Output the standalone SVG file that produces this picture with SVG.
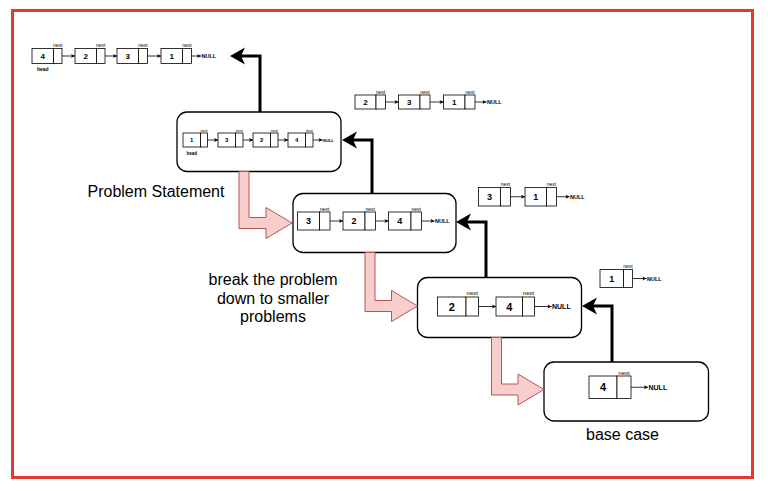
<svg xmlns="http://www.w3.org/2000/svg" width="768" height="491" viewBox="0 0 768 491">
<style>
text{font-family:"Liberation Sans",Arial,sans-serif;fill:#000}
.cell{fill:#fff;stroke:#000;stroke-width:0.8}
.box{fill:#fff;stroke:#000;stroke-width:1.3}
.num{font-weight:bold;text-anchor:middle;dominant-baseline:central}
.nx{text-anchor:middle}
.nul{font-weight:bold;dominant-baseline:central}
.hd{font-weight:bold;text-anchor:middle}
.lbl{font-size:16px;text-anchor:middle}
.link{stroke:#000;stroke-width:0.8;fill:none;marker-end:url(#sm)}
.rec{stroke:#000;stroke-width:3;fill:none;marker-end:url(#big)}
.blk{fill:#f8cecc;stroke:#b85450;stroke-width:1}
.s6 .num{font-size:6px}.s6 .nx{font-size:3.8px}.s6 .nul{font-size:4px}.s6 .hd{font-size:4.5px}
.s8 .num{font-size:8px}.s8 .nx{font-size:5px}.s8 .nul{font-size:5.5px}.s8 .hd{font-size:5px}
.s9 .num{font-size:9px}.s9 .nx{font-size:5px}.s9 .nul{font-size:5.5px}
.s11 .num{font-size:11px}.s11 .nx{font-size:6px}.s11 .nul{font-size:7px}
</style>
<defs>
<marker id="sm" markerUnits="userSpaceOnUse" markerWidth="6" markerHeight="6" refX="0" refY="0" orient="auto" overflow="visible">
<path d="M0,0 L-4,-2 L-3,0 L-4,2 Z" fill="#000"/>
</marker>
<marker id="big" markerUnits="userSpaceOnUse" markerWidth="20" markerHeight="20" refX="0" refY="0" orient="auto" overflow="visible">
<path d="M11,0 L-4,-8.5 L0,0 L-4,8.5 Z" fill="#000"/>
</marker>
</defs>
<rect x="0" y="0" width="768" height="491" fill="#fff"/>
<rect id="frame" x="12.5" y="10.5" width="740" height="467" fill="none" stroke="#e53a2f" stroke-width="3"/>

<g id="box1"><rect class="box" x="177" y="112" width="164" height="59.5" rx="10"/></g>
<g id="box2"><rect class="box" x="293" y="193.5" width="163" height="59" rx="10"/></g>
<g id="box3"><rect class="box" x="417.5" y="277.5" width="164" height="60" rx="10"/></g>
<g id="box4"><rect class="box" x="544" y="362" width="164.5" height="59" rx="10"/></g>

<g id="list-top-left" class="s8">
<rect class="cell" x="32" y="48.5" width="21.5" height="15"/><rect class="cell" x="53.5" y="48.5" width="8.5" height="15"/>
<text class="num" x="42.75" y="56">4</text><text class="nx" x="57.75" y="47">next</text><text class="hd" x="42.75" y="71">head</text>
<rect class="cell" x="75" y="48.5" width="21.5" height="15"/><rect class="cell" x="96.5" y="48.5" width="8.5" height="15"/>
<text class="num" x="85.75" y="56">2</text><text class="nx" x="100.75" y="47">next</text>
<rect class="cell" x="117" y="48.5" width="21.5" height="15"/><rect class="cell" x="138.5" y="48.5" width="9" height="15"/>
<text class="num" x="127.75" y="56">3</text><text class="nx" x="143" y="47">next</text>
<rect class="cell" x="161" y="48.5" width="21.5" height="15"/><rect class="cell" x="182.5" y="48.5" width="9" height="15"/>
<text class="num" x="171.75" y="56">1</text><text class="nx" x="187" y="47">next</text>
<text class="nul" x="201.5" y="56">NULL</text>
</g>

<g id="list-box1" class="s6">
<rect class="cell" x="183" y="133" width="17.5" height="14"/><rect class="cell" x="200.5" y="133" width="7" height="14"/>
<text class="num" x="191.75" y="140">1</text><text class="nx" x="204" y="131.7">next</text><text class="hd" x="191.75" y="155">head</text>
<rect class="cell" x="218" y="133" width="17.5" height="14"/><rect class="cell" x="235.5" y="133" width="7.5" height="14"/>
<text class="num" x="226.75" y="140">3</text><text class="nx" x="239.25" y="131.7">next</text>
<rect class="cell" x="253" y="133" width="17.5" height="14"/><rect class="cell" x="270.5" y="133" width="7.5" height="14"/>
<text class="num" x="261.75" y="140">2</text><text class="nx" x="274.25" y="131.7">next</text>
<rect class="cell" x="288" y="133" width="17.5" height="14"/><rect class="cell" x="305.5" y="133" width="7.5" height="14"/>
<text class="num" x="296.75" y="140">4</text><text class="nx" x="309.25" y="131.7">next</text>
<text class="nul" x="323" y="140">NULL</text>
</g>

<g id="list-231" class="s8">
<rect class="cell" x="355" y="95" width="21" height="14"/><rect class="cell" x="376" y="95" width="9.5" height="14"/>
<text class="num" x="365.5" y="102">2</text><text class="nx" x="380.75" y="93.5">next</text>
<rect class="cell" x="398.5" y="95" width="21.5" height="14"/><rect class="cell" x="420" y="95" width="10" height="14"/>
<text class="num" x="409.25" y="102">3</text><text class="nx" x="425" y="93.5">next</text>
<rect class="cell" x="443.5" y="95" width="21.5" height="14"/><rect class="cell" x="465" y="95" width="10" height="14"/>
<text class="num" x="454.25" y="102">1</text><text class="nx" x="470" y="93.5">next</text>
<text class="nul" x="487" y="102">NULL</text>
</g>

<g id="list-box2" class="s9">
<rect class="cell" x="297.5" y="212" width="22" height="18"/><rect class="cell" x="319.5" y="212" width="10.5" height="18"/>
<text class="num" x="308.5" y="221">3</text><text class="nx" x="324.75" y="210.5">next</text>
<rect class="cell" x="343" y="212" width="22" height="18"/><rect class="cell" x="365" y="212" width="10.5" height="18"/>
<text class="num" x="354" y="221">2</text><text class="nx" x="370.25" y="210.5">next</text>
<rect class="cell" x="388.5" y="212" width="22.5" height="18"/><rect class="cell" x="411" y="212" width="10.5" height="18"/>
<text class="num" x="399.75" y="221">4</text><text class="nx" x="416.25" y="210.5">next</text>
<text class="nul" x="435" y="221">NULL</text>
</g>

<g id="list-31" class="s9">
<rect class="cell" x="478.5" y="187.5" width="22" height="18.5"/><rect class="cell" x="500.5" y="187.5" width="10" height="18.5"/>
<text class="num" x="489.5" y="196.75">3</text><text class="nx" x="505.5" y="186">next</text>
<rect class="cell" x="525" y="187.5" width="21.5" height="18.5"/><rect class="cell" x="546.5" y="187.5" width="10" height="18.5"/>
<text class="num" x="535.75" y="196.75">1</text><text class="nx" x="551.5" y="186">next</text>
<text class="nul" x="570" y="196.75">NULL</text>
</g>

<g id="list-box3" class="s11">
<rect class="cell" x="437.5" y="297" width="28.5" height="19"/><rect class="cell" x="466" y="297" width="12.5" height="19"/>
<text class="num" x="451.75" y="306.5">2</text><text class="nx" x="472.25" y="295">next</text>
<rect class="cell" x="496" y="297" width="26.5" height="19"/><rect class="cell" x="522.5" y="297" width="12" height="19"/>
<text class="num" x="509.25" y="306.5">4</text><text class="nx" x="528.5" y="295">next</text>
<text class="nul" x="552" y="306.5">NULL</text>
</g>

<g id="list-1" class="s9">
<rect class="cell" x="600" y="269.5" width="23.5" height="18"/><rect class="cell" x="623.5" y="269.5" width="9" height="18"/>
<text class="num" x="611.75" y="278.5">1</text><text class="nx" x="628" y="268">next</text>
<text class="nul" x="647" y="278.5">NULL</text>
</g>

<g id="list-box4" class="s11">
<rect class="cell" x="589" y="376" width="28" height="22.5"/><rect class="cell" x="617" y="376" width="14" height="22.5"/>
<text class="num" x="603" y="387.25">4</text><text class="nx" x="624" y="374.5">next</text>
<text class="nul" x="648.5" y="387.25">NULL</text>
</g>

<g id="label-problem"><text x="87.5" y="196.5" font-size="16">Problem Statement</text></g>
<g id="label-break">
<text class="lbl" x="273" y="285">break the problem</text>
<text class="lbl" x="273" y="303.5">down to smaller</text>
<text class="lbl" x="273" y="322">problems</text>
</g>
<g id="label-base"><text class="lbl" x="622.5" y="440">base case</text></g>

<g id="connectors">
<path class="rec" d="M260,112 V56 H241"/>
<path class="rec" d="M372,193.5 V140 H353"/>
<path class="rec" d="M486,277.5 V222 H467"/>
<path class="rec" d="M612,362 V306 H593"/>
<path class="blk" d="M239,171.5 H249 V217.5 H266 V207.5 L292,223 L266,238.5 V228.5 H239 Z"/>
<path class="blk" d="M365,252.5 H375 V300.5 H391.5 V290.5 L417.5,306 L391.5,321.5 V311.5 H365 Z"/>
<path class="blk" d="M491.5,337.5 H501.5 V384 H518 V374 L544,389.5 L518,405 V395 H491.5 Z"/>
<path class="link" d="M62,56 H75"/><path class="link" d="M105,56 H117"/><path class="link" d="M147.5,56 H161"/><path class="link" d="M191.5,56 H201"/>
<path class="link" d="M207.5,140 H218"/><path class="link" d="M243,140 H253"/><path class="link" d="M278,140 H288"/><path class="link" d="M313,140 H322.5"/>
<path class="link" d="M385.5,102 H398.5"/><path class="link" d="M430,102 H443.5"/><path class="link" d="M475,102 H486.5"/>
<path class="link" d="M330,221 H343"/><path class="link" d="M375.5,221 H388.5"/><path class="link" d="M421.5,221 H434.5"/>
<path class="link" d="M510.5,196.75 H525"/><path class="link" d="M556.5,196.75 H569.5"/>
<path class="link" d="M478.5,306.5 H496"/><path class="link" d="M534.5,306.5 H551.5"/>
<path class="link" d="M632.5,278.5 H646.5"/>
<path class="link" d="M631,387.25 H648"/>
</g>
</svg>
